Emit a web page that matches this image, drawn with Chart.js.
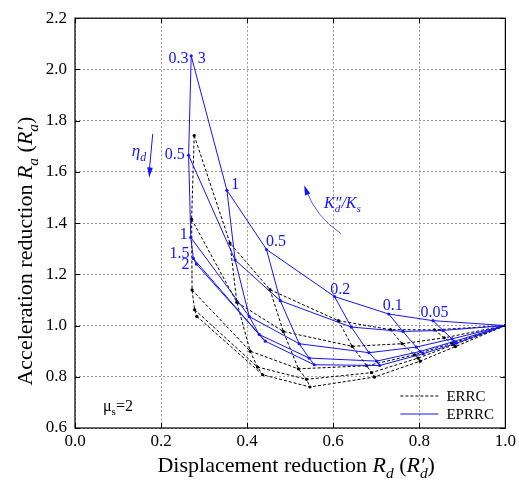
<!DOCTYPE html>
<html>
<head>
<meta charset="utf-8">
<script src="https://cdn.jsdelivr.net/npm/chart.js@4.4.0/dist/chart.umd.min.js"></script>
<style>
  body { margin: 0; background: #fff; }
  #wrap { width: 519px; height: 492px; }
</style>
</head>
<body>
<div id="wrap"><canvas id="chart" width="519" height="492"></canvas></div>
<script>
// K''d/Ks along each curve, the last point (K = 0) is the common end at (1, 1)
const kRatios = [3, 1, 0.5, 0.2, 0.1, 0.05, 0];
const etaValues = [0.3, 0.5, 1, 1.5, 2];

// ERRC, one row per eta_d
const errcRd = [
  [0.277, 0.360, 0.453, 0.612, 0.733, 0.835, 1.0],
  [0.271, 0.376, 0.484, 0.644, 0.760, 0.858, 1.0],
  [0.272, 0.407, 0.519, 0.678, 0.789, 0.876, 1.0],
  [0.278, 0.424, 0.538, 0.689, 0.797, 0.880, 1.0],
  [0.283, 0.436, 0.546, 0.696, 0.802, 0.884, 1.0]
];
const errcRa = [
  [1.742, 1.322, 1.140, 1.019, 0.984, 0.983, 1.0],
  [1.415, 1.091, 0.977, 0.919, 0.929, 0.952, 1.0],
  [1.139, 0.900, 0.831, 0.843, 0.886, 0.931, 1.0],
  [1.062, 0.838, 0.790, 0.816, 0.873, 0.925, 1.0],
  [1.036, 0.808, 0.760, 0.799, 0.861, 0.918, 1.0]
];

// EPRRC, one row per eta_d
const eprrcRd = [
  [0.270, 0.353, 0.445, 0.603, 0.729, 0.832, 1.0],
  [0.264, 0.372, 0.477, 0.642, 0.762, 0.855, 1.0],
  [0.269, 0.405, 0.521, 0.683, 0.793, 0.876, 1.0],
  [0.275, 0.428, 0.544, 0.701, 0.802, 0.881, 1.0],
  [0.282, 0.442, 0.556, 0.708, 0.809, 0.886, 1.0]
];
const eprrcRa = [
  [2.053, 1.528, 1.297, 1.113, 1.045, 1.019, 1.0],
  [1.665, 1.256, 1.097, 0.994, 0.977, 0.981, 1.0],
  [1.344, 1.035, 0.929, 0.894, 0.916, 0.948, 1.0],
  [1.262, 0.965, 0.873, 0.861, 0.899, 0.938, 1.0],
  [1.240, 0.939, 0.847, 0.844, 0.890, 0.931, 1.0]
];

const xTicks = [0, 0.2, 0.4, 0.6, 0.8, 1.0];
const yTicks = [0.6, 0.8, 1.0, 1.2, 1.4, 1.6, 1.8, 2.0, 2.2];

// value labels on the EPRRC grid (data coords, baseline)
const curveLabels = [
  { text: '0.3', x: 0.264, y: 2.024, align: 'right' },
  { text: '3', x: 0.285, y: 2.024, align: 'left' },
  { text: '0.5', x: 0.255, y: 1.652, align: 'right' },
  { text: '1', x: 0.262, y: 1.339, align: 'right' },
  { text: '1.5', x: 0.266, y: 1.265, align: 'right' },
  { text: '2', x: 0.266, y: 1.222, align: 'right' },
  { text: '1', x: 0.363, y: 1.534, align: 'left' },
  { text: '0.5', x: 0.444, y: 1.312, align: 'left' },
  { text: '0.2', x: 0.593, y: 1.125, align: 'left' },
  { text: '0.1', x: 0.715, y: 1.062, align: 'left' },
  { text: '0.05', x: 0.803, y: 1.035, align: 'left' }
];

const BLUE = '#1414ff';
const FONT = '"Liberation Serif", "Times New Roman", serif';

function pts(rd, ra) {
  return rd.map((v, i) => ({ x: v, y: ra[i] }));
}

function buildSets(rd, ra, color, dash, order) {
  const sets = [];
  // eta_d curves (K''d/Ks varies along them)
  etaValues.forEach((eta, e) => {
    sets.push({
      label: 'eta ' + eta, data: pts(rd[e], ra[e]), showLine: true,
      borderColor: color, backgroundColor: color, borderWidth: 1, borderDash: dash,
      pointRadius: 1.6, pointBorderWidth: 0, order: order
    });
  });
  // constant K''d/Ks lines across eta_d
  kRatios.slice(0, -1).forEach((k, j) => {
    sets.push({
      label: 'K ' + k, data: etaValues.map((_, e) => ({ x: rd[e][j], y: ra[e][j] })), showLine: true,
      borderColor: color, borderWidth: 1, borderDash: dash, pointRadius: 0, order: order
    });
  });
  return sets;
}

// draw text made of italic / subscript parts
function drawRich(ctx, parts, x, y, size, align, color) {
  const segs = parts.map(p => {
    const s = (p.sub || p.sup) ? size * 0.7 : size;
    const f = (p.it ? 'italic ' : '') + s + 'px ' + FONT;
    ctx.font = f;
    return { p, f, w: ctx.measureText(p.t).width, dy: p.sub ? size * 0.28 : (p.sup ? -size * 0.38 : 0) };
  });
  let cx = 0, last = 0, total = 0;
  const xs = [];
  segs.forEach(s => {
    if (s.p.stack) { xs.push(last); cx = Math.max(cx, last + s.w); }
    else { last = cx; xs.push(cx); cx += s.w; }
    total = Math.max(total, cx);
  });
  let x0 = x;
  if (align === 'center') x0 = x - total / 2;
  if (align === 'right') x0 = x - total;
  ctx.fillStyle = color;
  ctx.textAlign = 'left';
  ctx.textBaseline = 'alphabetic';
  segs.forEach((s, i) => {
    ctx.font = s.f;
    ctx.fillText(s.p.t, x0 + xs[i], y + s.dy);
  });
}

function arrowHead(ctx, tx, ty, fx, fy, len, half) {
  const ang = Math.atan2(ty - fy, tx - fx);
  ctx.beginPath();
  ctx.moveTo(tx, ty);
  ctx.lineTo(tx - len * Math.cos(ang) + half * Math.sin(ang), ty - len * Math.sin(ang) - half * Math.cos(ang));
  ctx.lineTo(tx - len * Math.cos(ang) - half * Math.sin(ang), ty - len * Math.sin(ang) + half * Math.cos(ang));
  ctx.closePath();
  ctx.fill();
}

const decor = {
  id: 'decor',
  afterDraw(chart) {
    const { ctx, chartArea: a, scales: { x, y } } = chart;
    ctx.save();
    ctx.setLineDash([]);

    // frame and inward ticks
    ctx.strokeStyle = '#000';
    ctx.lineWidth = 1.2;
    ctx.strokeRect(a.left, a.top, a.right - a.left, a.bottom - a.top);
    ctx.lineWidth = 1;
    ctx.beginPath();
    xTicks.forEach(v => {
      const px = Math.round(x.getPixelForValue(v)) + 0.5;
      ctx.moveTo(px, a.bottom); ctx.lineTo(px, a.bottom - 5);
      ctx.moveTo(px, a.top); ctx.lineTo(px, a.top + 5);
    });
    yTicks.forEach(v => {
      const py = Math.round(y.getPixelForValue(v)) + 0.5;
      ctx.moveTo(a.left, py); ctx.lineTo(a.left + 5, py);
      ctx.moveTo(a.right, py); ctx.lineTo(a.right - 5, py);
    });
    ctx.stroke();

    // curve labels
    curveLabels.forEach(l => {
      drawRich(ctx, [{ t: l.text }], x.getPixelForValue(l.x), y.getPixelForValue(l.y), 16, l.align, BLUE);
    });

    // eta_d arrow
    ctx.strokeStyle = BLUE; ctx.fillStyle = BLUE; ctx.lineWidth = 1;
    const ex0 = x.getPixelForValue(0.1806), ey0 = y.getPixelForValue(1.748);
    const ex1 = x.getPixelForValue(0.1725), ey1 = y.getPixelForValue(1.578);
    ctx.beginPath(); ctx.moveTo(ex0, ey0); ctx.lineTo(ex1, ey1 - 6); ctx.stroke();
    arrowHead(ctx, ex1, ey1, ex0, ey0, 10, 2.8);
    drawRich(ctx, [{ t: 'η', it: true }, { t: 'd', it: true, sub: true }],
      x.getPixelForValue(0.132), y.getPixelForValue(1.662), 17, 'left', BLUE);

    // K''d/Ks curved arrow
    const kx0 = x.getPixelForValue(0.6174), ky0 = y.getPixelForValue(1.3596);
    const kcx = x.getPixelForValue(0.560), kcy = y.getPixelForValue(1.425);
    const kx1 = x.getPixelForValue(0.5324), ky1 = y.getPixelForValue(1.548);
    ctx.strokeStyle = '#5a5aff'; ctx.fillStyle = BLUE;
    ctx.beginPath(); ctx.moveTo(kx0, ky0); ctx.quadraticCurveTo(kcx, kcy, kx1 + 2, ky1 + 5); ctx.stroke();
    arrowHead(ctx, kx1, ky1, kcx, kcy, 10, 2.8);
    drawRich(ctx, [{ t: 'K', it: true }, { t: '″', it: true }, { t: 'd', it: true, sub: true, stack: true },
      { t: '/', it: true }, { t: 'K', it: true }, { t: 's', it: true, sub: true }],
      x.getPixelForValue(0.5787), y.getPixelForValue(1.46), 16, 'left', BLUE);

    // mu_s
    drawRich(ctx, [{ t: 'μ' }, { t: 's', sub: true }, { t: '=2' }],
      x.getPixelForValue(0.065), y.getPixelForValue(0.668), 16, 'left', '#000');

    // legend
    const lx0 = a.right - 105, lx1 = a.right - 67;
    const ly1 = a.bottom - 32, ly2 = a.bottom - 14;
    ctx.lineWidth = 1;
    ctx.strokeStyle = '#000'; ctx.setLineDash([3, 2]);
    ctx.beginPath(); ctx.moveTo(lx0, ly1); ctx.lineTo(lx1, ly1); ctx.stroke();
    ctx.strokeStyle = BLUE; ctx.setLineDash([]);
    ctx.beginPath(); ctx.moveTo(lx0, ly2); ctx.lineTo(lx1, ly2); ctx.stroke();
    drawRich(ctx, [{ t: 'ERRC' }], a.right - 59, ly1 + 5, 15, 'left', '#000');
    drawRich(ctx, [{ t: 'EPRRC' }], a.right - 59, ly2 + 5, 15, 'left', '#000');

    // axis titles
    drawRich(ctx, [{ t: 'Displacement reduction ' }, { t: 'R', it: true }, { t: 'd', it: true, sub: true },
      { t: ' (' }, { t: 'R', it: true }, { t: '′', it: true }, { t: 'd', it: true, sub: true, stack: true }, { t: ')' }],
      (a.left + a.right) / 2 + 6, 472, 22, 'center', '#000');
    ctx.save();
    ctx.translate(32, (a.top + a.bottom) / 2 + 28);
    ctx.rotate(-Math.PI / 2);
    drawRich(ctx, [{ t: 'Acceleration reduction ' }, { t: 'R', it: true }, { t: 'a', it: true, sub: true },
      { t: ' (' }, { t: 'R', it: true }, { t: '′', it: true }, { t: 'a', it: true, sub: true, stack: true }, { t: ')' }],
      0, 0, 22, 'center', '#000');
    ctx.restore();

    ctx.restore();
  }
};

const datasets = [
  ...buildSets(eprrcRd, eprrcRa, BLUE, [], 0),
  ...buildSets(errcRd, errcRa, '#000', [3, 2], 1)
];

new Chart(document.getElementById('chart'), {
  type: 'scatter',
  data: { datasets },
  plugins: [decor],
  options: {
    responsive: false,
    animation: false,
    layout: { padding: { top: 17, right: 12, left: 0, bottom: 0 } },
    plugins: { legend: { display: false }, tooltip: { enabled: false } },
    scales: {
      x: {
        type: 'linear', min: 0, max: 1,
        afterBuildTicks: s => { s.ticks = xTicks.map(v => ({ value: v })); },
        afterFit: s => { s.height = 64; },
        grid: { color: '#9a9a9a', lineWidth: 1, drawTicks: false },
        border: { display: false, dash: [2, 2] },
        ticks: { padding: 3, color: '#000', font: { family: FONT, size: 17 }, callback: v => v.toFixed(1), maxRotation: 0 }
      },
      y: {
        type: 'linear', min: 0.6, max: 2.2,
        afterBuildTicks: s => { s.ticks = yTicks.map(v => ({ value: v })); },
        afterFit: s => { s.width = 75; },
        grid: { color: '#9a9a9a', lineWidth: 1, drawTicks: false },
        border: { display: false, dash: [2, 2] },
        ticks: { padding: 8, color: '#000', font: { family: FONT, size: 17 }, callback: v => v.toFixed(1) }
      }
    }
  }
});
</script>
</body>
</html>
